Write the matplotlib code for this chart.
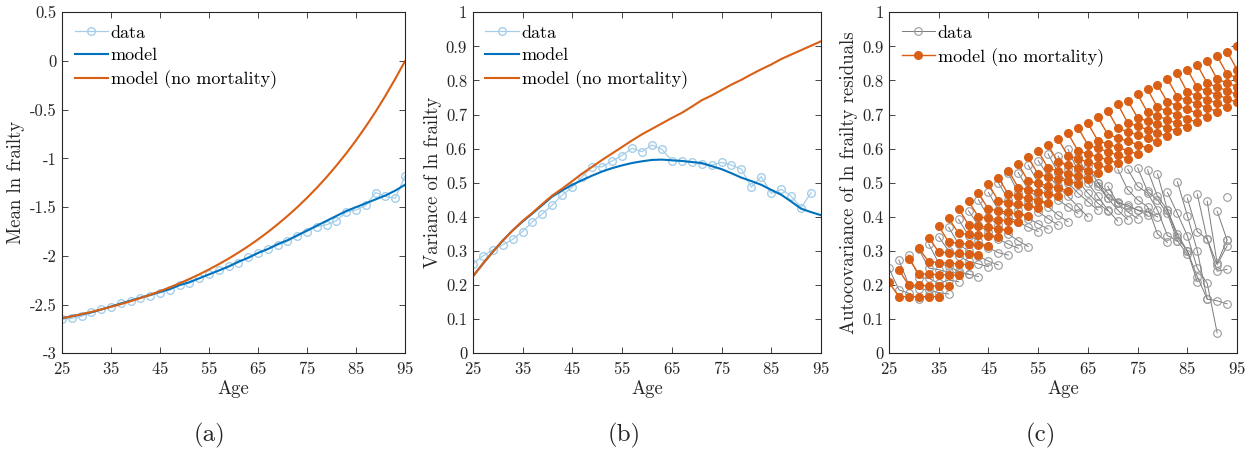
import matplotlib
matplotlib.use("Agg")
import matplotlib.pyplot as plt

plt.rcParams["font.family"] = "serif"
plt.rcParams["font.serif"] = ["cmr10", "DejaVu Serif"]
plt.rcParams["mathtext.fontset"] = "cm"
plt.rcParams["axes.unicode_minus"] = False
plt.rcParams["axes.formatter.use_mathtext"] = True

# --- data ---
ages = list(range(25, 96, 2))

# (a) mean ln frailty
mean_data = [-2.65, -2.64, -2.62, -2.58, -2.55, -2.52, -2.48, -2.46, -2.43, -2.41,
             -2.38, -2.35, -2.30, -2.28, -2.23, -2.19, -2.15, -2.10, -2.07, -2.01,
             -1.97, -1.93, -1.89, -1.85, -1.80, -1.75, -1.70, -1.68, -1.64, -1.55,
             -1.53, -1.48, -1.35, -1.39, -1.41, -1.18]
mean_model = [-2.64, -2.62, -2.60, -2.58, -2.55, -2.52, -2.49, -2.46, -2.43, -2.40,
              -2.37, -2.34, -2.30, -2.27, -2.23, -2.19, -2.15, -2.11, -2.06, -2.02,
              -1.97, -1.93, -1.88, -1.84, -1.79, -1.74, -1.69, -1.64, -1.59, -1.54,
              -1.50, -1.46, -1.42, -1.38, -1.33, -1.27]
mean_nomort = [-2.640, -2.620, -2.598, -2.575, -2.550, -2.523, -2.495, -2.465, -2.433,
               -2.399, -2.362, -2.323, -2.281, -2.237, -2.190, -2.139, -2.085, -2.028,
               -1.966, -1.901, -1.831, -1.756, -1.676, -1.591, -1.501, -1.404, -1.301,
               -1.191, -1.073, -0.948, -0.814, -0.671, -0.519, -0.356, -0.183, 0.0]

# (b) variance of ln frailty (data stops at 93)
var_data = [0.262, 0.285, 0.303, 0.318, 0.334, 0.357, 0.386, 0.409, 0.435, 0.464,
            0.487, 0.518, 0.547, 0.547, 0.564, 0.580, 0.601, 0.591, 0.611, 0.598,
            0.565, 0.564, 0.560, 0.554, 0.552, 0.560, 0.552, 0.540, 0.487, 0.518,
            0.469, 0.481, 0.461, 0.427, 0.471]
var_model = [0.225, 0.262, 0.297, 0.330, 0.360, 0.386, 0.410, 0.435, 0.460, 0.478,
             0.494, 0.508, 0.521, 0.533, 0.543, 0.551, 0.558, 0.563, 0.567, 0.568,
             0.566, 0.564, 0.561, 0.558, 0.549, 0.540, 0.528, 0.515, 0.505, 0.494,
             0.479, 0.465, 0.445, 0.424, 0.414, 0.405]
var_nomort = [0.225, 0.262, 0.297, 0.330, 0.360, 0.388, 0.412, 0.438, 0.463, 0.483,
              0.505, 0.527, 0.547, 0.567, 0.586, 0.605, 0.624, 0.642, 0.658, 0.674,
              0.690, 0.705, 0.723, 0.742, 0.756, 0.772, 0.788, 0.802, 0.818, 0.833,
              0.847, 0.863, 0.876, 0.889, 0.902, 0.915]

# (c) autocovariances, one array per lag (index = start age 25, 27, ...)
model_lag0 = [0.208, 0.244, 0.277, 0.308, 0.339, 0.373, 0.396, 0.424, 0.446, 0.469,
              0.496, 0.515, 0.536, 0.555, 0.575, 0.593, 0.610, 0.628, 0.645, 0.662,
              0.674, 0.692, 0.711, 0.731, 0.741, 0.759, 0.774, 0.787, 0.804, 0.821,
              0.832, 0.846, 0.858, 0.871, 0.885, 0.900]
model_lag1 = [0.166, 0.199, 0.233, 0.268, 0.297, 0.326, 0.352, 0.377, 0.400, 0.423,
              0.447, 0.466, 0.486, 0.505, 0.525, 0.543, 0.560, 0.579, 0.594, 0.611,
              0.624, 0.642, 0.660, 0.676, 0.691, 0.707, 0.721, 0.737, 0.753, 0.766,
              0.780, 0.792, 0.804, 0.819, 0.832]
model_lag2 = [0.166, 0.199, 0.232, 0.266, 0.295, 0.323, 0.349, 0.373, 0.396, 0.418,
              0.442, 0.460, 0.480, 0.498, 0.518, 0.535, 0.552, 0.570, 0.585, 0.601,
              0.614, 0.632, 0.650, 0.666, 0.681, 0.696, 0.710, 0.726, 0.742, 0.755,
              0.769, 0.781, 0.793, 0.808]
model_lag3 = [0.166, 0.198, 0.231, 0.264, 0.293, 0.320, 0.346, 0.369, 0.392, 0.413,
              0.437, 0.454, 0.474, 0.491, 0.511, 0.527, 0.544, 0.561, 0.576, 0.591,
              0.604, 0.622, 0.640, 0.656, 0.671, 0.685, 0.699, 0.715, 0.731, 0.744,
              0.758, 0.770, 0.782]
model_lag4 = [0.166, 0.197, 0.230, 0.262, 0.291, 0.317, 0.343, 0.365, 0.388, 0.408,
              0.432, 0.448, 0.468, 0.484, 0.504, 0.519, 0.536, 0.552, 0.567, 0.581,
              0.594, 0.612, 0.630, 0.646, 0.661, 0.674, 0.688, 0.704, 0.720, 0.733,
              0.747, 0.759]
model_lag5 = [0.166, 0.196, 0.229, 0.260, 0.289, 0.314, 0.340, 0.361, 0.384, 0.403,
              0.427, 0.442, 0.462, 0.477, 0.497, 0.511, 0.528, 0.543, 0.558, 0.571,
              0.584, 0.602, 0.620, 0.636, 0.651, 0.663, 0.677, 0.693, 0.709, 0.722,
              0.736]

data_lag0 = [0.249, 0.273, 0.289, 0.305, 0.320, 0.342, 0.370, 0.393, 0.418, 0.450,
             0.472, 0.500, 0.528, 0.530, 0.552, 0.565, 0.585, 0.578, 0.598, 0.575,
             0.550, 0.500, 0.490, 0.540, 0.540, 0.544, 0.538, 0.526, 0.472, 0.503,
             0.455, 0.467, 0.446, 0.417, 0.457]
data_lag1 = [0.186, 0.200, 0.222, 0.250, 0.265, 0.300, 0.320, 0.345, 0.375, 0.400,
             0.420, 0.450, 0.470, 0.480, 0.500, 0.520, 0.530, 0.540, 0.535, 0.520,
             0.500, 0.455, 0.440, 0.480, 0.490, 0.475, 0.460, 0.420, 0.410, 0.404,
             0.357, 0.335, 0.264, 0.332]
data_lag2 = [0.176, 0.190, 0.220, 0.245, 0.255, 0.285, 0.300, 0.330, 0.355, 0.375,
             0.400, 0.420, 0.445, 0.455, 0.475, 0.490, 0.500, 0.505, 0.500, 0.490,
             0.470, 0.445, 0.435, 0.450, 0.470, 0.450, 0.420, 0.350, 0.345, 0.301,
             0.335, 0.260, 0.332]
data_lag3 = [0.159, 0.185, 0.205, 0.238, 0.240, 0.270, 0.285, 0.310, 0.335, 0.350,
             0.385, 0.395, 0.415, 0.430, 0.450, 0.460, 0.470, 0.470, 0.460, 0.455,
             0.440, 0.430, 0.420, 0.430, 0.420, 0.410, 0.340, 0.300, 0.250, 0.159,
             0.241, 0.315]
data_lag4 = [0.170, 0.178, 0.215, 0.235, 0.232, 0.262, 0.270, 0.295, 0.320, 0.330,
             0.370, 0.380, 0.395, 0.405, 0.430, 0.430, 0.445, 0.440, 0.420, 0.420,
             0.415, 0.420, 0.415, 0.350, 0.345, 0.330, 0.300, 0.225, 0.205, 0.154,
             0.246]
data_lag5 = [0.165, 0.174, 0.210, 0.232, 0.225, 0.254, 0.259, 0.288, 0.308, 0.313,
             0.357, 0.364, 0.376, 0.386, 0.410, 0.400, 0.420, 0.418, 0.388, 0.392,
             0.395, 0.405, 0.400, 0.325, 0.330, 0.290, 0.210, 0.159, 0.060, 0.145]

BLUE = "#0072BD"
ORANGE = "#D95F14"
LIGHT = "#A6CEE8"
GRAY_LINE = "#7a7a7a"
GRAY_MK = "#9a9a9a"
AX = "#262626"

fig = plt.figure(figsize=(12.56, 4.5), dpi=100)
ax_a = fig.add_axes([0.0494, 0.2149, 0.2731, 0.7578])
ax_b = fig.add_axes([0.3764, 0.2149, 0.2773, 0.7578])
ax_c = fig.add_axes([0.7078, 0.2149, 0.2771, 0.7578])


def style(ax, ylim, yticks, ylabel):
    ax.set_xlim(25, 95)
    ax.set_ylim(*ylim)
    ax.set_xticks(range(25, 96, 10))
    ax.set_yticks(yticks)
    ax.set_yticklabels([f"{t:g}" for t in yticks])
    ax.tick_params(direction="in", top=True, right=True, length=4,
                   width=0.6, color=AX, labelsize=12, labelcolor=AX)
    ax.tick_params(axis="x", pad=5)
    ax.tick_params(axis="y", pad=4)
    for s in ax.spines.values():
        s.set_color(AX)
        s.set_linewidth(0.8)
    ax.set_xlabel("Age", fontsize=13.5, color=AX, labelpad=2)
    ax.set_ylabel(ylabel, fontsize=13.5, color=AX, labelpad=3)


# (a)
ax_a.plot(ages, mean_data, color=LIGHT, lw=0.9, marker="o", ms=5.5, mfc="none", label="data")
ax_a.plot(ages, mean_model, color=BLUE, lw=1.5, label="model")
ax_a.plot(ages, mean_nomort, color=ORANGE, lw=1.5, label="model (no mortality)")
style(ax_a, (-3, 0.5), [-3, -2.5, -2, -1.5, -1, -0.5, 0, 0.5], "Mean ln frailty")

# (b)
ax_b.plot(ages[:len(var_data)], var_data, color=LIGHT, lw=0.9, marker="o", ms=5.5,
          mfc="none", label="data")
ax_b.plot(ages, var_model, color=BLUE, lw=1.5, label="model")
ax_b.plot(ages, var_nomort, color=ORANGE, lw=1.5, label="model (no mortality)")
style(ax_b, (0, 1), [round(0.1 * i, 1) for i in range(11)], "Variance of ln frailty")

# (c)
data_lags = [data_lag0, data_lag1, data_lag2, data_lag3, data_lag4, data_lag5]
model_lags = [model_lag0, model_lag1, model_lag2, model_lag3, model_lag4, model_lag5]
for i, a in enumerate(ages[:len(data_lag0)]):
    xs = [a + 2 * k for k in range(6) if i < len(data_lags[k])]
    ys = [data_lags[k][i] for k in range(6) if i < len(data_lags[k])]
    ax_c.plot(xs, ys, color=GRAY_LINE, lw=0.7, marker="o", ms=5.5, mfc="none",
              mec=GRAY_MK, mew=0.8, label="data" if i == 0 else None)
for i, a in enumerate(ages):
    xs = [a + 2 * k for k in range(6) if i < len(model_lags[k])]
    ys = [model_lags[k][i] for k in range(6) if i < len(model_lags[k])]
    ax_c.plot(xs, ys, color=ORANGE, lw=1.0, marker="o", ms=5.5, mfc=ORANGE, mec=ORANGE,
              label="model (no mortality)" if i == 0 else None)
style(ax_c, (0, 1), [round(0.1 * i, 1) for i in range(11)],
      "Autocovariance of ln frailty residuals")

for ax in (ax_a, ax_b, ax_c):
    ax.legend(loc="upper left", frameon=False, fontsize=13, handlelength=1.85,
              handletextpad=0.15, borderaxespad=0.3, labelspacing=0.4)

fig.text(0.167, 0.02, "(a)", fontsize=18, ha="center", color=AX)
fig.text(0.497, 0.02, "(b)", fontsize=18, ha="center", color=AX)
fig.text(0.829, 0.02, "(c)", fontsize=18, ha="center", color=AX)

fig.savefig("out.png", dpi=100)
